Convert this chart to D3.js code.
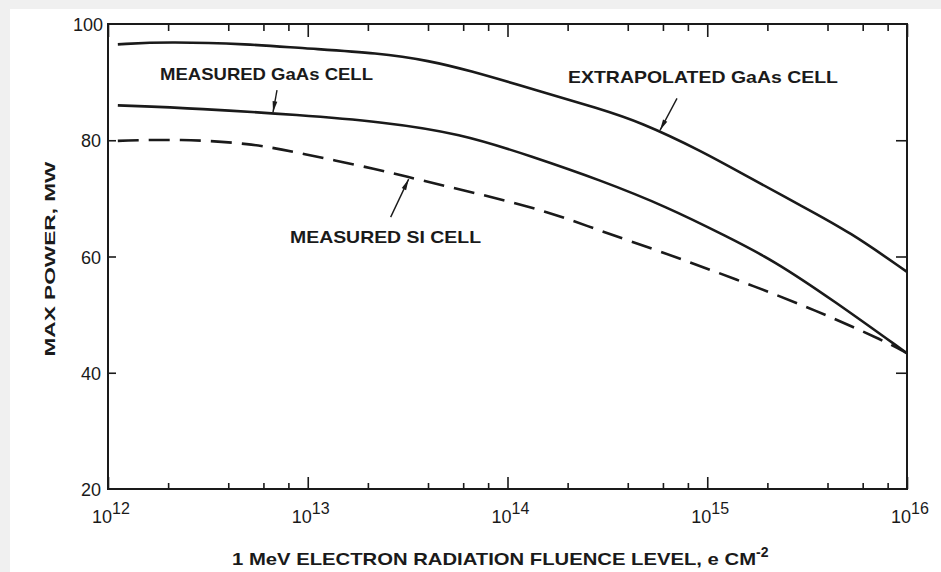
<!DOCTYPE html>
<html>
<head>
<meta charset="utf-8">
<script src="https://cdn.jsdelivr.net/npm/d3@7"></script>
<style>
  html, body { margin: 0; padding: 0; background: #f0f0f0; }
  svg { display: block; }
  text { font-family: "Liberation Sans", Arial, Helvetica, sans-serif; fill: #1a1a1a; }
</style>
</head>
<body>
<svg id="chart" width="941" height="572"></svg>
<script>
// Max power vs. 1 MeV electron fluence for GaAs and Si solar cells
const extrapolatedFluence = [1.12e12, 1.97e12, 5.14e12, 9.14e12, 2.3e13, 4.09e13, 6.27e13, 1.34e14, 2.91e14, 4.6e14, 9.2e14, 1.64e15, 2.91e15, 5.19e15, 1e16];
const extrapolatedPower   = [96.5, 96.95, 96.55, 95.85, 95.0, 93.65, 92.1, 88.8, 85.4, 83.15, 78.3, 73.5, 68.85, 64.2, 57.35];

const measuredGaAsFluence = [1.12e12, 2.89e12, 9.14e12, 2.3e13, 5.78e13, 1.34e14, 2.91e14, 6.28e14, 1.26e15, 2.13e15, 4.26e15, 1e16];
const measuredGaAsPower   = [86.0, 85.45, 84.35, 83.2, 81.2, 77.15, 73.15, 68.55, 63.4, 59.4, 52.5, 43.35];

const measuredSiFluence = [1.12e12, 2.29e12, 5.14e12, 9.14e12, 2.3e13, 3.65e13, 7.28e13, 1.63e14, 2.91e14, 5.6e14, 1.39e15, 3.54e15, 7.94e15, 1e16];
const measuredSiPower   = [79.9, 80.2, 79.5, 77.8, 74.9, 73.15, 70.75, 67.65, 64.4, 61.1, 56.1, 50.7, 45.25, 43.35];

const decadeExponents = [12, 13, 14, 15, 16];
const minorMultipliers = [2, 4, 6, 8];
const powerTicks = [20, 40, 60, 80, 100];

const labelMeasuredGaAs = "MEASURED GaAs CELL";
const labelExtrapolated = "EXTRAPOLATED GaAs CELL";
const labelSi = "MEASURED SI CELL";
const yTitle = "MAX POWER, MW";
const xTitle = "1 MeV ELECTRON RADIATION FLUENCE LEVEL, e CM";
const xTitleExp = "-2";

const svg = d3.select("#chart");
const ink = "#1a1a1a";

// paper area
svg.append("rect").attr("x", 10).attr("y", 9).attr("width", 931).attr("height", 563).attr("fill", "#ffffff");

const plotLeft = 108, plotRight = 907, plotTop = 24, plotBottom = 489;
const x = d3.scaleLog().domain([1e12, 1e16]).range([plotLeft, plotRight]);
const y = d3.scaleLinear().domain([20, 100]).range([plotBottom, plotTop]);

const majors = decadeExponents.map(e => Math.pow(10, e));
const minors = [];
decadeExponents.slice(0, -1).forEach(e => minorMultipliers.forEach(m => minors.push(m * Math.pow(10, e))));

// frame ticks (all pointing inward)
function styleAxis(g) {
  g.select(".domain").remove();
  g.selectAll(".tick line").attr("stroke", ink).attr("stroke-width", 1.6);
  g.selectAll(".tick text").remove();
}
svg.append("g").attr("transform", `translate(0,${plotBottom})`)
  .call(d3.axisBottom(x).tickValues(minors).tickSize(-6).tickFormat("")).call(styleAxis);
svg.append("g").attr("transform", `translate(0,${plotBottom})`)
  .call(d3.axisBottom(x).tickValues(majors).tickSize(-12).tickFormat("")).call(styleAxis);
svg.append("g").attr("transform", `translate(0,${plotTop})`)
  .call(d3.axisTop(x).tickValues(minors).tickSize(-7).tickFormat("")).call(styleAxis);
svg.append("g").attr("transform", `translate(0,${plotTop})`)
  .call(d3.axisTop(x).tickValues(majors).tickSize(-13).tickFormat("")).call(styleAxis);
svg.append("g").attr("transform", `translate(${plotLeft},0)`)
  .call(d3.axisLeft(y).tickValues(powerTicks.slice(1, -1)).tickSize(-8).tickFormat("")).call(styleAxis);
svg.append("g").attr("transform", `translate(${plotRight},0)`)
  .call(d3.axisRight(y).tickValues(powerTicks.slice(1, -1)).tickSize(-11).tickFormat("")).call(styleAxis);

svg.append("rect")
  .attr("x", plotLeft).attr("y", plotTop)
  .attr("width", plotRight - plotLeft).attr("height", plotBottom - plotTop)
  .attr("fill", "none").attr("stroke", ink).attr("stroke-width", 2);

// y tick labels
svg.append("g").selectAll("text").data(powerTicks).join("text")
  .attr("x", d => d === 100 ? 103 : 101)
  .attr("y", d => y(d) + 7)
  .attr("text-anchor", "end")
  .attr("font-size", 18)
  .text(d => d);

// x tick labels: 10^n
const xl = svg.append("g").selectAll("text").data(decadeExponents).join("text")
  .attr("x", e => x(Math.pow(10, e)) + 3)
  .attr("y", 523)
  .attr("text-anchor", "middle");
xl.append("tspan").attr("font-size", 18).text("10");
xl.append("tspan").attr("font-size", 16).attr("dy", -9).text(e => e);

// curves
const line = d3.line().x(d => x(d[0])).y(d => y(d[1])).curve(d3.curveBasis);
const series = [
  { f: extrapolatedFluence, p: extrapolatedPower, dash: null },
  { f: measuredGaAsFluence, p: measuredGaAsPower, dash: null },
  { f: measuredSiFluence, p: measuredSiPower, dash: "21,10" }
];
series.forEach(s => {
  svg.append("path")
    .datum(d3.zip(s.f, s.p))
    .attr("d", line)
    .attr("fill", "none")
    .attr("stroke", ink)
    .attr("stroke-width", 2.6)
    .attr("stroke-dasharray", s.dash)
    .attr("stroke-linecap", "butt");
});

// value on a series at a given fluence (log-linear interpolation)
function powerAt(fl, pw, f) {
  const lx = fl.map(Math.log10), t = Math.log10(f);
  for (let i = 1; i < lx.length; i++) {
    if (t <= lx[i]) {
      const k = (t - lx[i - 1]) / (lx[i] - lx[i - 1]);
      return pw[i - 1] + k * (pw[i] - pw[i - 1]);
    }
  }
  return pw[pw.length - 1];
}

// leader arrows from labels to curves
function arrow(tipF, fl, pw, dx, dy, gap) {
  const tx = x(tipF), ty = y(powerAt(fl, pw, tipF)) + gap;
  const sx = tx + dx, sy = ty + dy;
  const len = Math.hypot(dx, dy), ux = -dx / len, uy = -dy / len;
  const px = -uy, py = ux;
  svg.append("line").attr("x1", sx).attr("y1", sy).attr("x2", tx).attr("y2", ty)
    .attr("stroke", ink).attr("stroke-width", 1.4);
  const hl = 11, hw = 2.4;
  const bx = tx - ux * hl, by = ty - uy * hl;
  svg.append("path")
    .attr("d", `M${tx},${ty}L${bx + px * hw},${by + py * hw}L${bx - px * hw},${by - py * hw}Z`)
    .attr("fill", ink);
}
arrow(6.7e12, measuredGaAsFluence, measuredGaAsPower, 4, -22, -1);
arrow(5.8e14, extrapolatedFluence, extrapolatedPower, 17, -32, -1);
arrow(3.2e13, measuredSiFluence, measuredSiPower, -18, 38, 2);

// curve labels
function label(txt, x0, base, width) {
  svg.append("text").attr("x", x0).attr("y", base)
    .attr("font-size", 17).attr("font-weight", "bold")
    .attr("textLength", width).attr("lengthAdjust", "spacingAndGlyphs")
    .text(txt);
}
label(labelMeasuredGaAs, 160, 80, 213);
label(labelExtrapolated, 568, 83, 270);
label(labelSi, 290, 243, 191);

// axis titles
svg.append("text")
  .attr("transform", "translate(55,259) rotate(-90)")
  .attr("text-anchor", "middle")
  .attr("font-size", 15).attr("font-weight", "bold")
  .attr("textLength", 195).attr("lengthAdjust", "spacingAndGlyphs")
  .text(yTitle);

const xt = svg.append("text").attr("x", 232).attr("y", 565).attr("font-size", 17).attr("font-weight", "bold");
xt.append("tspan").attr("textLength", 524).attr("lengthAdjust", "spacingAndGlyphs").text(xTitle);
xt.append("tspan").attr("font-size", 14).attr("dy", -8).text(xTitleExp);
</script>
</body>
</html>
